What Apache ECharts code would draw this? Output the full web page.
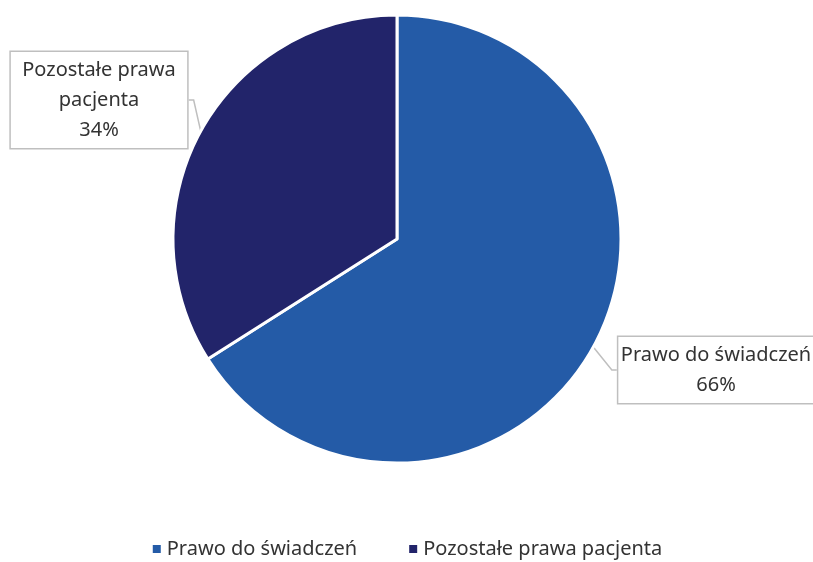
<!DOCTYPE html>
<html><head><meta charset="utf-8">
<script src="https://cdn.jsdelivr.net/npm/echarts@6/dist/echarts.min.js"></script>
<style>html,body{margin:0;padding:0;background:#fff}#c{width:813px;height:562px}</style>
</head><body><div id="c"></div>
<script>
const categories = ['Prawo do świadczeń', 'Pozostałe prawa pacjenta'];
const labelNames = ['Prawo do świadczeń', 'Pozostałe prawa\npacjenta'];
const values = [66, 34];
const colors = ['#245BA7', '#22246A'];

const chart = echarts.init(document.getElementById('c'));
const labelPos = [
  {x: 716, y: 370, align: 'center', verticalAlign: 'middle'},
  {x: 99, y: 100, align: 'center', verticalAlign: 'middle'}
];
chart.setOption({
  animation: false,
  textStyle: {fontFamily: 'Noto Sans'},
  legend: {
    bottom: -2, left: 'center',
    icon: 'rect', itemWidth: 10, itemHeight: 10, itemGap: 50,
    textStyle: {fontSize: 20, color: '#333', fontFamily: 'Noto Sans'},
    data: categories
  },
  series: [{
    type: 'pie',
    center: [397, 239],
    radius: 224,
    startAngle: 90,
    clockwise: true,
    itemStyle: {borderColor: '#fff', borderWidth: 3},
    label: {
      show: true,
      fontSize: 20, color: '#333', lineHeight: 30,
      fontFamily: 'Noto Sans',
      overflow: 'none',
      backgroundColor: '#fff', borderColor: '#bfbfbf', borderWidth: 1.5,
      padding: [3, 10, 3, 10],
      align: 'center',
      formatter: p => labelNames[p.dataIndex] + '\n' + p.value + '%'
    },
    labelLine: {show: true, length: 5, length2: 5, lineStyle: {color: '#bfbfbf', width: 1.5}},
    labelLayout: p => labelPos[p.dataIndex],
    data: categories.map((c, i) => ({name: c, value: values[i], itemStyle: {color: colors[i]}}))
  }]
});
</script></body></html>
